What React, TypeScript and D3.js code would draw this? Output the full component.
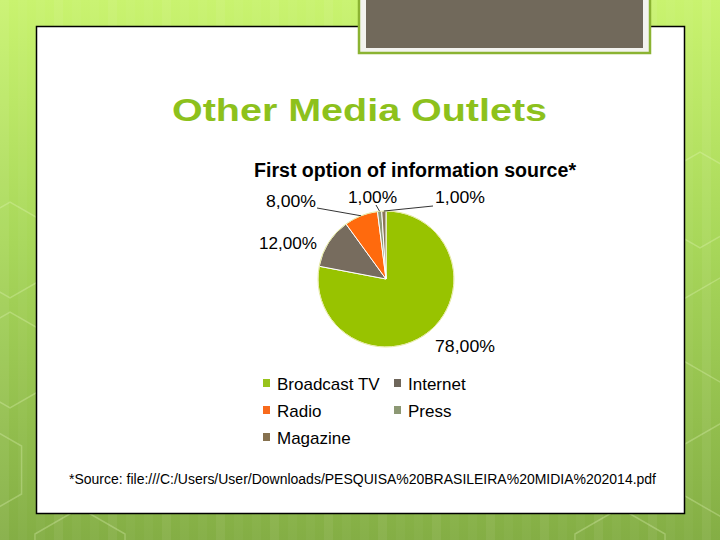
import React from "react";
import * as d3 from "d3";

const categories = ["Broadcast TV", "Internet", "Radio", "Press", "Magazine"];
const values = [78, 12, 8, 1, 1];
const colors = ["#98c300", "#776c5e", "#ff6a0d", "#8f9a78", "#8a7556"];
const legendColors = ["#98c31c", "#6e665b", "#f86a1c", "#8c9874", "#86714f"];
const title = "Other Media Outlets";
const chartTitle = "First option of information source*";
const source = "*Source: file:///C:/Users/User/Downloads/PESQUISA%20BRASILEIRA%20MIDIA%202014.pdf";

const fmt = (v: number) => v.toFixed(2).replace(".", ",") + "%";

// label layout per slice: [x (start), baseline, width, leader?]
const labelLayout: { x: number; y: number; w: number; leader: boolean; lx?: number; ly?: number }[] = [
  { x: 435, y: 352, w: 60, leader: false },
  { x: 259, y: 249, w: 58, leader: false },
  { x: 266, y: 207, w: 50, leader: true, lx: 317, ly: 208 },
  { x: 348, y: 203, w: 49, leader: true, lx: 376, ly: 205 },
  { x: 435, y: 203, w: 50, leader: true, lx: 433, ly: 206 },
];

const hexes: [number, number, number][] = [
  [10, 360, 48], [10, 250, 48], [-20, 470, 48], [720, 330, 52], [730, 470, 52], [700, 200, 48], [80, 560, 52], [620, 560, 52],
];

export default function App() {
  const cx = 386;
  const cy = 279;
  const r = 68;
  const pie = d3.pie<number>().sort(null).value((d) => d).startAngle(0).endAngle(2 * Math.PI);
  const arcs = pie(values);
  const arc = d3.arc<d3.PieArcDatum<number>>().innerRadius(0).outerRadius(r);

  const hexPath = (x: number, y: number, s: number) => {
    const pts = d3.range(6).map((i) => {
      const a = (Math.PI / 3) * i + Math.PI / 6;
      return [x + s * Math.cos(a), y + s * Math.sin(a)];
    });
    return "M" + pts.map((p) => p.join(",")).join("L") + "Z";
  };

  const stripes = d3.range(0, 720, 18);

  return (
    <svg width={720} height={540} style={{ position: "absolute", left: 0, top: 0 }}>
      <defs>
        <linearGradient id="bg" x1="0" y1="0" x2="0" y2="1">
          <stop offset="0" stopColor="#c9f36f" />
          <stop offset="0.45" stopColor="#a8d75a" />
          <stop offset="1" stopColor="#84ae45" />
        </linearGradient>
      </defs>
      <rect x={0} y={0} width={720} height={540} fill="url(#bg)" />
      {stripes.map((s, i) => (
        <rect key={i} x={s} y={0} width={9} height={540} fill="#ffffff" opacity={i % 3 === 0 ? 0.06 : 0.03} />
      ))}
      {hexes.map(([x, y, s], i) => (
        <path key={i} d={hexPath(x, y, s)} fill="none" stroke="#e8f7c0" strokeOpacity={0.3} strokeWidth={1.5} />
      ))}

      <rect x={36.5} y={26.5} width={648} height={487} fill="#ffffff" stroke="#000" strokeWidth={1.5} />

      {/* top box */}
      <rect x={359} y={-2} width={291} height={55} fill="#f3f3ef" stroke="#8bb332" strokeWidth={2.5} />
      <rect x={366} y={0} width={277} height={48} fill="#71695b" />

      <text
        x={172}
        y={121}
        fontFamily="'Liberation Sans', Arial, sans-serif"
        fontWeight="bold"
        fontSize={32}
        fill="#8dc11c"
        textLength={375}
        lengthAdjust="spacingAndGlyphs"
      >
        {title}
      </text>

      <text
        x={254}
        y={177}
        fontFamily="'Liberation Sans Narrow', 'Liberation Sans', Arial, sans-serif"
        fontWeight="bold"
        fontSize={20}
        fill="#000"
        textLength={322}
        lengthAdjust="spacingAndGlyphs"
      >
        {chartTitle}
      </text>

      <g transform={`translate(${cx},${cy})`}>
        {arcs.map((a, i) => (
          <path key={i} d={arc(a) || ""} fill={colors[i]} stroke="#ffffff" strokeWidth={1} strokeLinejoin="round" />
        ))}
        <circle r={r} fill="none" stroke="#dfe58a" strokeWidth={0.8} />
      </g>

      {arcs.map((a, i) => {
        const L = labelLayout[i];
        const mid = (a.startAngle + a.endAngle) / 2;
        const px = cx + r * Math.sin(mid);
        const py = cy - r * Math.cos(mid);
        return (
          <g key={i}>
            {L.leader && <line x1={L.lx} y1={L.ly} x2={px} y2={py} stroke="#000" strokeWidth={0.8} />}
            <text
              x={L.x}
              y={L.y}
              fontFamily="'Liberation Sans', Arial, sans-serif"
              fontSize={17}
              fill="#000"
              textLength={L.w}
              lengthAdjust="spacingAndGlyphs"
            >
              {fmt(values[i])}
            </text>
          </g>
        );
      })}

      {categories.map((c, i) => {
        const col = i === 0 ? 0 : i === 1 ? 1 : i === 2 ? 0 : i === 3 ? 1 : 0;
        const row = i === 0 || i === 1 ? 0 : i === 2 || i === 3 ? 1 : 2;
        const x = col === 0 ? 263 : 394;
        const y = 390 + row * 27;
        return (
          <g key={c}>
            <rect x={x} y={y - 11} width={7} height={8} fill={legendColors[i]} />
            <text x={x + 14} y={y} fontFamily="'Liberation Sans', Arial, sans-serif" fontSize={17} fill="#000">
              {c}
            </text>
          </g>
        );
      })}

      <text
        x={69}
        y={484}
        fontFamily="'Liberation Sans Narrow', 'Liberation Sans', Arial, sans-serif"
        fontSize={14}
        fill="#000"
        textLength={587}
        lengthAdjust="spacingAndGlyphs"
      >
        {source}
      </text>
    </svg>
  );
}
